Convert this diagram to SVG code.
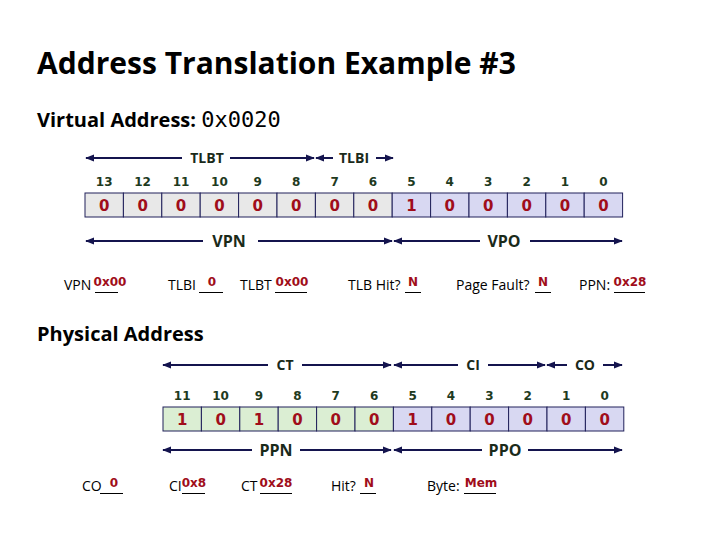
<svg xmlns="http://www.w3.org/2000/svg" width="720" height="540" viewBox="0 0 720 540">
<style>
.title{font-family:"Open Sans","Liberation Sans",sans-serif;font-weight:bold;font-size:30px;fill:#000}
.h2{font-family:"Open Sans","Liberation Sans",sans-serif;font-weight:bold;font-size:20px;fill:#000}
.mono{font-family:"DejaVu Sans Mono","Liberation Mono",monospace;font-weight:normal;font-size:22px;fill:#000}
.bit{font-family:"DejaVu Sans","Liberation Sans",sans-serif;font-weight:bold;font-size:12px;fill:#1e3a1e;text-anchor:middle}
.val{font-family:"DejaVu Sans","Liberation Sans",sans-serif;font-weight:bold;font-size:15px;fill:#a00d1a;text-anchor:middle}
.alab{font-family:"Open Sans","Liberation Sans",sans-serif;font-weight:bold;font-size:14px;fill:#1a2a1a;text-anchor:middle}
.big{font-size:16px}
.lab{font-family:"Open Sans","Liberation Sans",sans-serif;font-size:14px;fill:#000}
.ans{font-family:"DejaVu Sans","Liberation Sans",sans-serif;font-weight:bold;font-size:12px;fill:#a00d1a;text-anchor:middle}
.ul{stroke:#000;stroke-width:1}
.gray{fill:#e8e8e8;stroke:#20205a;stroke-width:1}
.lav{fill:#d8d8f2;stroke:#20205a;stroke-width:1}
.grn{fill:#dbeed3;stroke:#20205a;stroke-width:1}
.arr{stroke:#14144e;stroke-width:2;fill:none}
.s{marker-start:url(#ah)}
.e{marker-end:url(#ah)}
</style>
<defs>
<marker id="ah" viewBox="0 0 10 10" refX="9" refY="5" markerWidth="4.5" markerHeight="4.5" orient="auto-start-reverse" markerUnits="strokeWidth">
<path d="M0,1 L10,5 L0,9 z" fill="#14144e"/>
</marker>
</defs>
<rect width="720" height="540" fill="#fff"/>

<text class="title" x="37" y="74">Address Translation Example #3</text>
<g id="va-label"><text class="h2" x="37" y="127">Virtual Address: <tspan class="mono">0x0020</tspan></text></g>

<g id="va-register">
<rect class="gray" x="85" y="193" width="38.4" height="24"/>
<rect class="gray" x="123.4" y="193" width="38.4" height="24"/>
<rect class="gray" x="161.8" y="193" width="38.4" height="24"/>
<rect class="gray" x="200.2" y="193" width="38.4" height="24"/>
<rect class="gray" x="238.6" y="193" width="38.4" height="24"/>
<rect class="gray" x="277" y="193" width="38.4" height="24"/>
<rect class="gray" x="315.4" y="193" width="38.4" height="24"/>
<rect class="gray" x="353.8" y="193" width="38.4" height="24"/>
<rect class="lav" x="392.2" y="193" width="38.4" height="24"/>
<rect class="lav" x="430.6" y="193" width="38.4" height="24"/>
<rect class="lav" x="469" y="193" width="38.4" height="24"/>
<rect class="lav" x="507.4" y="193" width="38.4" height="24"/>
<rect class="lav" x="545.8" y="193" width="38.4" height="24"/>
<rect class="lav" x="584.2" y="193" width="38.4" height="24"/>
<text class="bit" x="104.2" y="186">13</text>
<text class="bit" x="142.6" y="186">12</text>
<text class="bit" x="181" y="186">11</text>
<text class="bit" x="219.4" y="186">10</text>
<text class="bit" x="257.8" y="186">9</text>
<text class="bit" x="296.2" y="186">8</text>
<text class="bit" x="334.6" y="186">7</text>
<text class="bit" x="373" y="186">6</text>
<text class="bit" x="411.4" y="186">5</text>
<text class="bit" x="449.8" y="186">4</text>
<text class="bit" x="488.2" y="186">3</text>
<text class="bit" x="526.6" y="186">2</text>
<text class="bit" x="565" y="186">1</text>
<text class="bit" x="603.4" y="186">0</text>
<text class="val" x="104.2" y="210.5">0</text>
<text class="val" x="142.6" y="210.5">0</text>
<text class="val" x="181" y="210.5">0</text>
<text class="val" x="219.4" y="210.5">0</text>
<text class="val" x="257.8" y="210.5">0</text>
<text class="val" x="296.2" y="210.5">0</text>
<text class="val" x="334.6" y="210.5">0</text>
<text class="val" x="373" y="210.5">0</text>
<text class="val" x="411.4" y="210.5">1</text>
<text class="val" x="449.8" y="210.5">0</text>
<text class="val" x="488.2" y="210.5">0</text>
<text class="val" x="526.6" y="210.5">0</text>
<text class="val" x="565" y="210.5">0</text>
<text class="val" x="603.4" y="210.5">0</text>
</g>

<g id="connectors">
<path class="arr s" d="M86,158 H182"/><path class="arr e" d="M230,158 H314"/>
<path class="arr s" d="M316,158 H333"/><path class="arr e" d="M376,158 H393"/>
<path class="arr s" d="M86,241 H203"/><path class="arr e" d="M258,241 H392"/>
<path class="arr s" d="M394,241 H480"/><path class="arr e" d="M530,241 H622"/>
<path class="arr s" d="M163,365 H268"/><path class="arr e" d="M302,365 H391"/>
<path class="arr s" d="M394,365 H458"/><path class="arr e" d="M488,365 H545"/>
<path class="arr s" d="M547,365 H567"/><path class="arr e" d="M603,365 H622"/>
<path class="arr s" d="M163,450 H252"/><path class="arr e" d="M300,450 H391"/>
<path class="arr s" d="M394,450 H482"/><path class="arr e" d="M528,450 H622"/>
</g>
<g id="field-labels">
<text class="alab" x="207" y="163">TLBT</text>
<text class="alab" x="354" y="163">TLBI</text>
<text class="alab big" x="229" y="247">VPN</text>
<text class="alab big" x="504" y="247">VPO</text>
<text class="alab" x="285" y="370">CT</text>
<text class="alab" x="473" y="370">CI</text>
<text class="alab" x="585" y="370">CO</text>
<text class="alab big" x="276" y="456">PPN</text>
<text class="alab big" x="505" y="456">PPO</text>
</g>

<g id="va-answers">
<text class="lab" x="64" y="290">VPN</text><line class="ul" x1="95" y1="292.5" x2="118" y2="292.5"/><text class="ans" x="110" y="286">0x00</text>
<text class="lab" x="168" y="290">TLBI</text><line class="ul" x1="199" y1="292.5" x2="223" y2="292.5"/><text class="ans" x="212" y="286">0</text>
<text class="lab" x="240" y="290">TLBT</text><line class="ul" x1="275" y1="292.5" x2="307" y2="292.5"/><text class="ans" x="292" y="286">0x00</text>
<text class="lab" x="348" y="290">TLB Hit?</text><line class="ul" x1="405" y1="292.5" x2="421" y2="292.5"/><text class="ans" x="413" y="286">N</text>
<text class="lab" x="456" y="290">Page Fault?</text><line class="ul" x1="535" y1="292.5" x2="551" y2="292.5"/><text class="ans" x="543" y="286">N</text>
<text class="lab" x="579" y="290">PPN:</text><line class="ul" x1="614" y1="292.5" x2="645" y2="292.5"/><text class="ans" x="630" y="286">0x28</text>
</g>

<g id="pa-label"><text class="h2" x="37" y="341">Physical Address</text></g>

<g id="pa-register">
<rect class="grn" x="163" y="407" width="38.4" height="24"/>
<rect class="grn" x="201.4" y="407" width="38.4" height="24"/>
<rect class="grn" x="239.8" y="407" width="38.4" height="24"/>
<rect class="grn" x="278.2" y="407" width="38.4" height="24"/>
<rect class="grn" x="316.6" y="407" width="38.4" height="24"/>
<rect class="grn" x="355" y="407" width="38.4" height="24"/>
<rect class="lav" x="393.4" y="407" width="38.4" height="24"/>
<rect class="lav" x="431.8" y="407" width="38.4" height="24"/>
<rect class="lav" x="470.2" y="407" width="38.4" height="24"/>
<rect class="lav" x="508.6" y="407" width="38.4" height="24"/>
<rect class="lav" x="547" y="407" width="38.4" height="24"/>
<rect class="lav" x="585.4" y="407" width="38.4" height="24"/>
<text class="bit" x="182.2" y="400">11</text>
<text class="bit" x="220.6" y="400">10</text>
<text class="bit" x="259" y="400">9</text>
<text class="bit" x="297.4" y="400">8</text>
<text class="bit" x="335.8" y="400">7</text>
<text class="bit" x="374.2" y="400">6</text>
<text class="bit" x="412.6" y="400">5</text>
<text class="bit" x="451" y="400">4</text>
<text class="bit" x="489.4" y="400">3</text>
<text class="bit" x="527.8" y="400">2</text>
<text class="bit" x="566.2" y="400">1</text>
<text class="bit" x="604.6" y="400">0</text>
<text class="val" x="182.2" y="424.5">1</text>
<text class="val" x="220.6" y="424.5">0</text>
<text class="val" x="259" y="424.5">1</text>
<text class="val" x="297.4" y="424.5">0</text>
<text class="val" x="335.8" y="424.5">0</text>
<text class="val" x="374.2" y="424.5">0</text>
<text class="val" x="412.6" y="424.5">1</text>
<text class="val" x="451" y="424.5">0</text>
<text class="val" x="489.4" y="424.5">0</text>
<text class="val" x="527.8" y="424.5">0</text>
<text class="val" x="566.2" y="424.5">0</text>
<text class="val" x="604.6" y="424.5">0</text>
</g>

<g id="pa-answers">
<text class="lab" x="82" y="491">CO</text><line class="ul" x1="100" y1="493.5" x2="123" y2="493.5"/><text class="ans" x="114" y="487">0</text>
<text class="lab" x="169" y="491">CI</text><line class="ul" x1="182" y1="493.5" x2="205" y2="493.5"/><text class="ans" x="194" y="487">0x8</text>
<text class="lab" x="241" y="491">CT</text><line class="ul" x1="260" y1="493.5" x2="292" y2="493.5"/><text class="ans" x="276" y="487">0x28</text>
<text class="lab" x="331" y="491">Hit?</text><line class="ul" x1="360" y1="493.5" x2="376" y2="493.5"/><text class="ans" x="369" y="487">N</text>
<text class="lab" x="427" y="491">Byte:</text><line class="ul" x1="464" y1="493.5" x2="496" y2="493.5"/><text class="ans" x="481" y="487">Mem</text>
</g>
</svg>
